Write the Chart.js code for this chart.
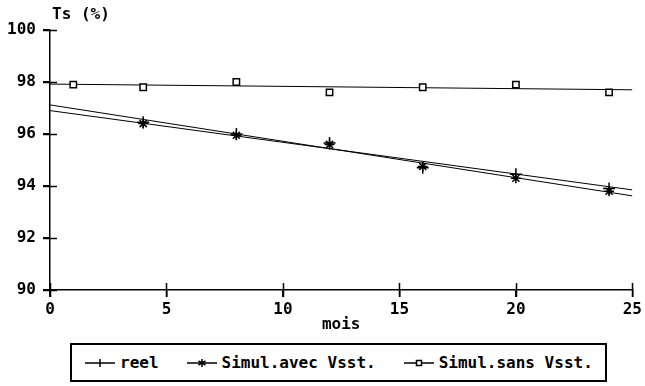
<!DOCTYPE html>
<html>
<head>
<meta charset="utf-8">
<title>Ts (%)</title>
<script src="https://cdn.jsdelivr.net/npm/chart.js@4/dist/chart.umd.min.js"></script>
<style>
    body { margin: 0; background: #fff; }
    #wrap { position: relative; width: 645px; height: 386px; }
    #legend {
        position: absolute; left: 70px; top: 343px;
        width: 537px; height: 39px; box-sizing: border-box;
        border: 2px solid #000; background: #fff;
        display: flex; align-items: center; gap: 28px; padding-left: 13px;
        font: bold 16px 'DejaVu Sans Mono', monospace; color: #000;
    }
    .item { display: flex; align-items: center; white-space: pre; }
    .item svg { margin-right: 5px; }
</style>
</head>
<body>
<div id="wrap">
    <canvas id="chart" width="645" height="386"></canvas>
    <div id="legend"></div>
</div>
<script>
// Measurements (month -> Ts %)
const months = [4, 8, 12, 16, 20, 24];
const reelValues = [96.45, 96.0, 95.65, 94.7, 94.45, 93.9];
const avecValues = [96.4, 95.95, 95.6, 94.75, 94.3, 93.8];
const sansMonths = [1, 4, 8, 12, 16, 20, 24];
const sansValues = [97.9, 97.8, 98.0, 97.6, 97.8, 97.9, 97.6];

// Fitted straight lines, from month 0 to month 25
const fitMonths = [0, 25];
const reelFit = [96.9, 93.85];
const avecFit = [97.12, 93.62];
const sansFit = [97.92, 97.7];

const seriesNames = ['reel', 'Simul.avec Vsst.', 'Simul.sans Vsst.'];

const FONT = "'DejaVu Sans Mono', monospace";

// Helper to zip x and y arrays into points
function toPoints(xs, ys) {
    return xs.map((x, i) => ({ x: x, y: ys[i] }));
}

// Tick marks crossing both axes, plus the y axis caption
const crossTicks = {
    id: 'crossTicks',
    afterDraw(chart) {
        const { ctx, chartArea, scales } = chart;
        ctx.save();
        ctx.strokeStyle = '#000';
        ctx.lineWidth = 1.5;
        ctx.beginPath();
        scales.y.ticks.forEach(t => {
            const py = Math.round(scales.y.getPixelForValue(t.value)) + 0.5;
            ctx.moveTo(chartArea.left - 7, py);
            ctx.lineTo(chartArea.left + 7, py);
        });
        scales.x.ticks.forEach(t => {
            const px = Math.round(scales.x.getPixelForValue(t.value)) + 0.5;
            ctx.moveTo(px, chartArea.bottom - 7);
            ctx.lineTo(px, chartArea.bottom + 7);
        });
        ctx.stroke();

        ctx.fillStyle = '#000';
        ctx.font = 'bold 16px ' + FONT;
        ctx.textAlign = 'left';
        ctx.textBaseline = 'middle';
        ctx.fillText('Ts (%)', chartArea.left + 2, 15);
        ctx.restore();
    }
};

function lineDataset(label, ys) {
    return {
        label: label,
        data: toPoints(fitMonths, ys),
        showLine: true,
        borderColor: '#000',
        borderWidth: 1,
        pointRadius: 0
    };
}

function markerDataset(label, xs, ys, style, radius) {
    return {
        label: label,
        data: toPoints(xs, ys),
        showLine: false,
        pointStyle: style,
        pointRadius: radius,
        pointBorderWidth: 1.5,
        borderColor: '#000',
        backgroundColor: '#fff'
    };
}

function createChart() {
    const canvas = document.getElementById('chart');
    const tickFont = { family: FONT, size: 16, weight: 'bold' };

    new Chart(canvas, {
        type: 'scatter',
        data: {
            datasets: [
                markerDataset(seriesNames[2], sansMonths, sansValues, 'rect', 4.5),
                markerDataset(seriesNames[0], months, reelValues, 'cross', 6),
                markerDataset(seriesNames[1], months, avecValues, 'star', 5),
                lineDataset(seriesNames[0], reelFit),
                lineDataset(seriesNames[1], avecFit),
                lineDataset(seriesNames[2], sansFit)
            ]
        },
        options: {
            responsive: false,
            animation: false,
            layout: { padding: { top: 30, right: 11, bottom: 52, left: 0 } },
            plugins: {
                legend: { display: false },
                tooltip: { enabled: false }
            },
            scales: {
                x: {
                    type: 'linear',
                    min: 0,
                    max: 25,
                    afterFit: s => { s.height = 44; },
                    border: { color: '#000', width: 1.5 },
                    grid: { drawOnChartArea: false, color: '#000', tickLength: 7, lineWidth: 1.5 },
                    ticks: { stepSize: 5, color: '#000', font: tickFont, padding: 3, maxRotation: 0 },
                    title: { display: true, text: 'mois', color: '#000', font: tickFont, padding: 0 }
                },
                y: {
                    type: 'linear',
                    min: 90,
                    max: 100,
                    afterFit: s => { s.width = 50; },
                    border: { color: '#000', width: 1.5 },
                    grid: { drawOnChartArea: false, color: '#000', tickLength: 7, lineWidth: 1.5 },
                    ticks: { stepSize: 2, color: '#000', font: tickFont, padding: 7 }
                }
            }
        },
        plugins: [crossTicks]
    });
}

// Small line-with-marker icons for the legend box
function legendIcon(style) {
    let marker = '';
    if (style === 'cross') {
        marker = '<path d="M15 2V10" stroke="#000" stroke-width="1.5"/>';
    } else if (style === 'star') {
        marker = '<path d="M15 2V10M11.5 4L18.5 8M11.5 8L18.5 4" stroke="#000" stroke-width="1.5"/>';
    } else {
        marker = '<rect x="12.5" y="3.5" width="5" height="5" fill="#fff" stroke="#000" stroke-width="1.5"/>';
    }
    return '<svg width="30" height="12"><path d="M0 6H30" stroke="#000" stroke-width="1.5"/>' + marker + '</svg>';
}

function buildLegend() {
    const styles = ['cross', 'star', 'rect'];
    const legend = document.getElementById('legend');
    seriesNames.forEach((name, i) => {
        const item = document.createElement('div');
        item.className = 'item';
        item.innerHTML = legendIcon(styles[i]);
        const label = document.createElement('span');
        label.textContent = name;
        item.appendChild(label);
        legend.appendChild(item);
    });
}

createChart();
buildLegend();
</script>
</body>
</html>
